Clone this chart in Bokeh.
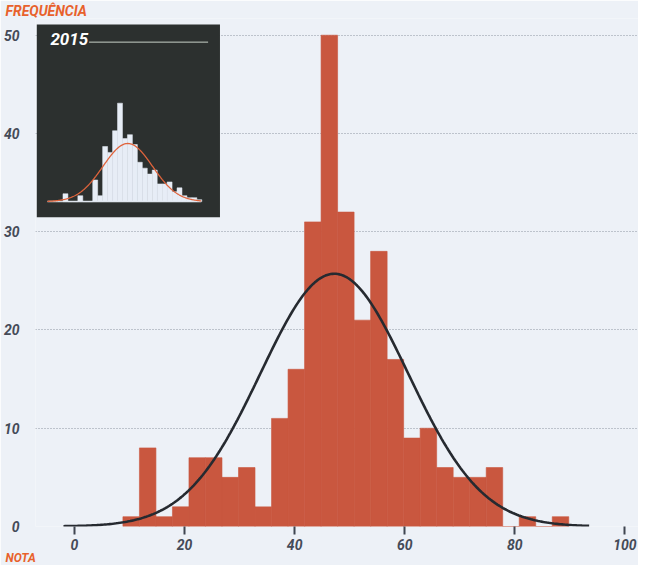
import numpy as np
from bokeh.plotting import figure
from bokeh.models import Range1d, FixedTicker, Title
from bokeh.core.properties import value
from bokeh.embed import file_html
from bokeh.resources import INLINE

# ---------------- data ----------------
bin_start = 8.8
bin_width = 3.0
counts = [1, 8, 1, 2, 7, 7, 5, 6, 2, 11, 16, 31, 50, 32, 21, 28, 17, 9, 10, 6, 5, 5, 6, 0, 1, 0, 1]
fit_mean = 47.2
fit_sd = 13.4
curve_from, curve_to = -2.0, 93.5

inset_year = "2015"
inset_counts = [4, 0, 0, 3, 0, 0, 11, 3, 28, 25, 36, 50, 32, 34, 29, 20, 17, 14, 16, 9, 9, 10, 5, 7, 3, 2, 2, 1]
inset_mean = 48.0
inset_sd = 15.0
inset_curve_from, inset_curve_to = -0.6, 92.4

x_ticks = [0, 20, 40, 60, 80, 100]
y_ticks = [0, 10, 20, 30, 40, 50]
y_title = "FREQUÊNCIA"
x_title = "NOTA"

# ---------------- derived ----------------
edges = bin_start + bin_width * np.arange(len(counts) + 1)
inset_edges = bin_start + bin_width * np.arange(len(inset_counts) + 1)


def normal_curve(n, mean, sd, lo, hi):
    xs = np.linspace(lo, hi, 300)
    ys = n * bin_width / (sd * np.sqrt(2 * np.pi)) * np.exp(-0.5 * ((xs - mean) / sd) ** 2)
    return xs, ys


cx, cy = normal_curve(sum(counts), fit_mean, fit_sd, curve_from, curve_to)
icx, icy = normal_curve(sum(inset_counts), inset_mean, inset_sd, inset_curve_from, inset_curve_to)

FONT = "Roboto"
BG = "#edf1f7"
BAR = "#c9573f"
ORANGE = "#e8612c"
LABEL = "#454b58"

p = figure(width=638, height=565,
           x_range=Range1d(-7.081, 102.468), y_range=Range1d(0, 51.70),
           output_backend="svg", toolbar_location=None,
           min_border_left=30, min_border_right=0, min_border_top=17, min_border_bottom=32)
p.background_fill_color = BG
p.border_fill_color = BG
p.outline_line_color = None

p.title.text = y_title
p.title.align = "left"
p.title.offset = -30
p.title.standoff = 0
p.title.text_font = FONT
p.title.text_font_style = "bold italic"
p.title.text_font_size = "14px"
p.title.text_color = ORANGE

p.xgrid.visible = False
p.ygrid.grid_line_color = "#8d94a0"
p.ygrid.grid_line_dash = "1 2"
p.ygrid.grid_line_width = 1

p.yaxis.ticker = FixedTicker(ticks=y_ticks)
p.yaxis.axis_line_color = None
p.yaxis.major_tick_line_color = None
p.yaxis.minor_tick_line_color = None
p.yaxis.major_label_standoff = 10

p.xaxis.ticker = FixedTicker(ticks=x_ticks)
p.xaxis.axis_line_color = None
p.xaxis.minor_tick_line_color = None
p.xaxis.major_tick_in = 0
p.xaxis.major_tick_out = 8
p.xaxis.major_tick_line_width = 2
p.xaxis.major_tick_line_color = "#3f4550"
p.xaxis.major_label_standoff = 4

for ax in (p.xaxis, p.yaxis):
    ax.major_label_text_font = FONT
    ax.major_label_text_font_style = "bold italic"
    ax.major_label_text_font_size = "14px"
    ax.major_label_text_color = LABEL

# main histogram
p.quad(left=edges[:-1], right=edges[1:], bottom=0, top=counts,
       fill_color=BAR, line_color=BAR, line_width=0.6)
p.line(cx, cy, line_color="#262a30", line_width=2.6)

# inset (own scales)
p.extra_x_ranges = {"ix": Range1d(-7.82, 356.98)}
p.extra_y_ranges = {"iy": Range1d(-165, 93)}
p.quad(left=-7.04, right=103.78, bottom=-8, top=90, fill_color="#2c302f", line_color=None,
       x_range_name="ix", y_range_name="iy")
p.segment(x0=inset_curve_from, y0=0, x1=inset_curve_to, y1=0, line_color="#cfd5dc", line_width=1.5,
          x_range_name="ix", y_range_name="iy")
p.quad(left=inset_edges[:-1], right=inset_edges[1:], bottom=0, top=inset_counts,
       fill_color="#e7edf6", line_color="#e7edf6", line_width=0.5,
       x_range_name="ix", y_range_name="iy")
p.line(icx, icy, line_color="#e0643c", line_width=1.3, x_range_name="ix", y_range_name="iy")
p.text(x=[1.2], y=[82.5], text=[inset_year], text_font=value(FONT), text_font_style="bold italic",
       text_font_size="17px", text_color="white", text_baseline="middle",
       x_range_name="ix", y_range_name="iy")
p.segment(x0=24.6, y0=81, x1=96.6, y1=81, line_color="#c8d0c8", line_width=1,
          x_range_name="ix", y_range_name="iy")

# x title in a bottom title row, left of the tick labels
p.add_layout(Title(text=x_title, align="left", offset=-30, standoff=-3, vertical_align="top",
                   text_font=FONT, text_font_style="bold italic",
                   text_font_size="12px", text_color=ORANGE), "below")

open("out.html", "w").write(file_html(p, INLINE))
